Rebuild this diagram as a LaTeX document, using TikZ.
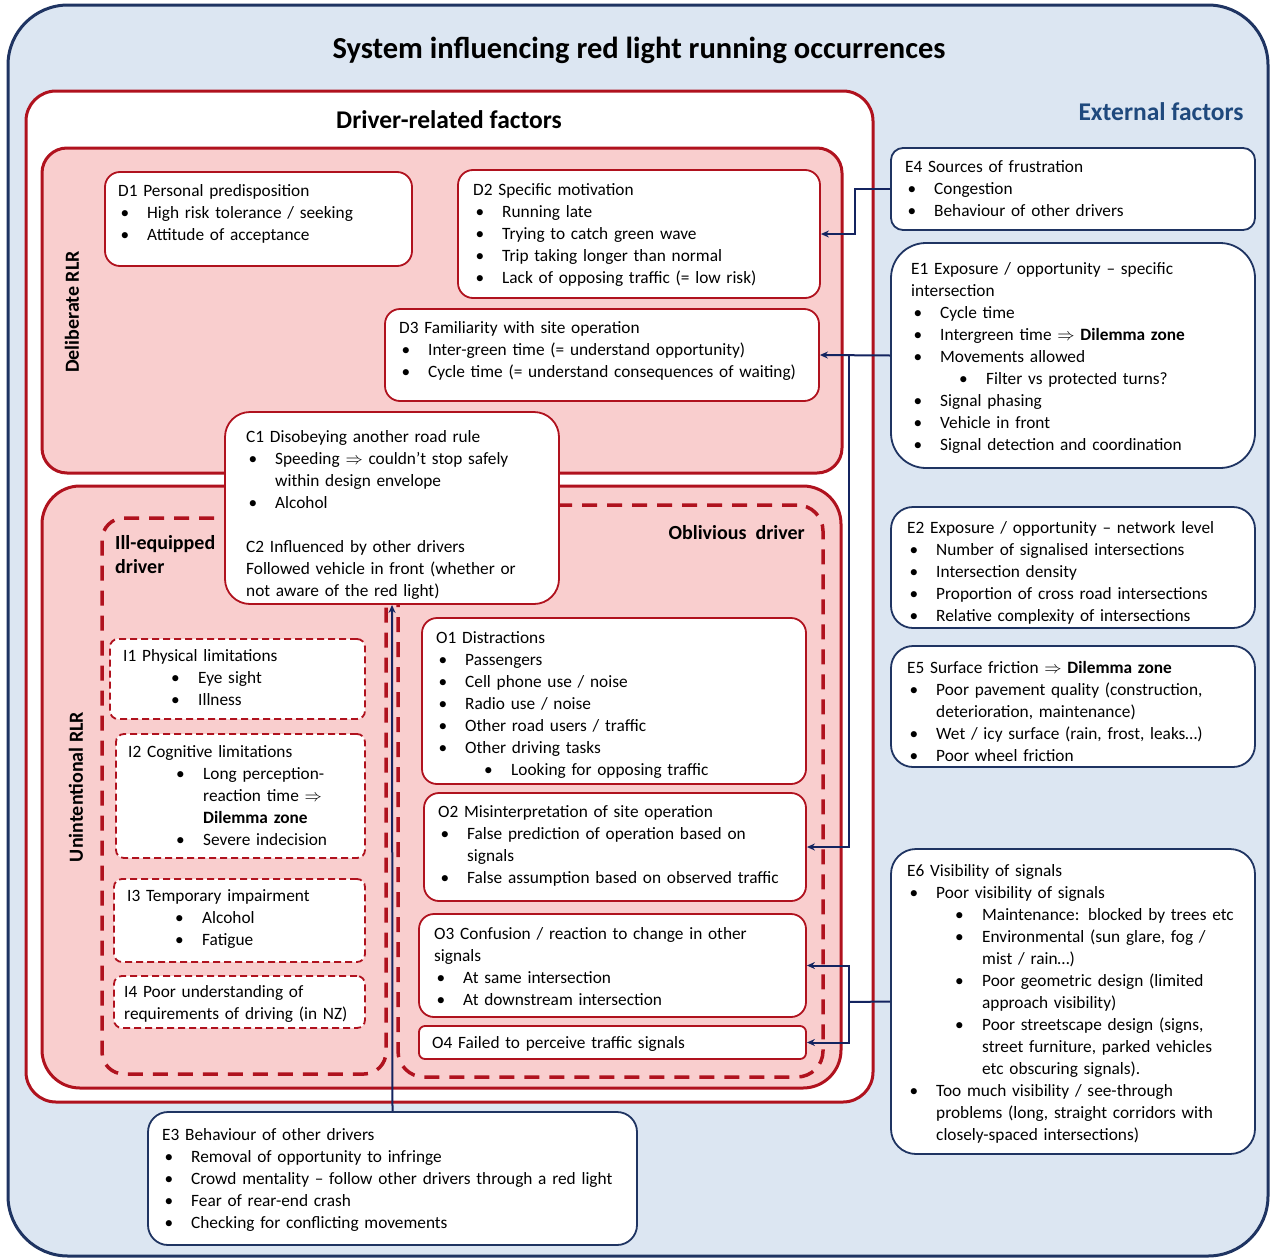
\documentclass[tikz,border=0pt]{standalone}
\usepackage{fontspec}
\setmainfont{Carlito}
\usetikzlibrary{arrows.meta,fit}

\definecolor{outerfill}{RGB}{220,230,242}
\definecolor{navy}{RGB}{31,52,98}
\definecolor{dred}{RGB}{176,18,30}
\definecolor{pinkfill}{RGB}{249,206,206}
\definecolor{conn}{RGB}{20,36,96}
\definecolor{extblue}{RGB}{31,73,125}

\newcommand\Bi[1]{\makebox[29pt][l]{\hspace{2.5pt}\textbullet}#1}
\newcommand\Bii[1]{\makebox[75pt][l]{\hspace{48pt}\textbullet}#1}
\newcommand\Ci[1]{\makebox[29pt][l]{}#1}
\newcommand\Cii[1]{\makebox[75pt][l]{}#1}
\newcommand\Fl{\rule{0pt}{13.5pt}}
\newcommand\Imp{$\Rightarrow$}

\tikzset{
  boxbase/.style={inner sep=0pt},
  outerbox/.style={boxbase, draw=navy, line width=3pt, fill=outerfill, rounded corners=60pt},
  redbox/.style={boxbase, draw=dred, line width=3pt, rounded corners=#1},
  dbox/.style={boxbase, draw=dred, line width=1.8pt, fill=white, rounded corners=#1},
  ibox/.style={boxbase, draw=dred, line width=1.8pt, dash pattern=on 7pt off 4pt, fill=white, rounded corners=8pt},
  groupbox/.style={boxbase, draw=dred, line width=3.5pt, dash pattern=on 15pt off 10pt, rounded corners=#1},
  ebox/.style={boxbase, draw=navy, line width=1.8pt, fill=white, rounded corners=#1},
  txt/.style={anchor=north west, inner sep=0pt, align=left, text width=560pt, font=\fontsize{17.3}{22}\selectfont},
  hdr/.style={inner sep=0pt, font=\fontsize{20}{24}\selectfont\bfseries},
  connline/.style={draw=conn, line width=2pt},
  conn/.style={connline, -{Stealth[length=8pt,width=7pt]}},
}

\begin{document}
\begin{tikzpicture}[x=1pt,y=-1pt]
\path[use as bounding box] (0,0) rectangle (1271,1258);

% outer system
\node[outerbox, fit={(8,5) (1268,1256)}] (outer) {};
\node[inner sep=0pt, font=\fontsize{30.5}{34}\selectfont\bfseries] (title) at (639,50) {System influencing red light running occurrences};
\node[inner sep=0pt, font=\fontsize{25.5}{30}\selectfont\bfseries, text=extblue] (extlbl) at (1161,112) {External factors};

% driver-related
\node[redbox=30pt, fill=white, fit={(26,91) (873,1102)}] (driver) {};
\node[inner sep=0pt, font=\fontsize{25.5}{30}\selectfont\bfseries] (drvlbl) at (449,120) {Driver-related factors};

\node[redbox=25pt, fill=pinkfill, fit={(42,148) (842,473)}] (delib) {};
\node[hdr, rotate=90] (delibl) at (72,312) {Deliberate RLR};

\node[redbox=38pt, fill=pinkfill, fit={(42,486) (841,1088)}] (unint) {};
\node[hdr, rotate=90] (unintl) at (76,787) {Unintentional RLR};

\node[groupbox=22pt, fit={(102,518) (386,1074)}] (illeq) {};
\node[groupbox=26pt, fit={(398,505) (823,1077)}] (obliv) {};
\node[hdr, anchor=north west, align=left] (illeql) at (115,535) {Ill-equipped\\driver};
\node[hdr, anchor=east] (oblivl) at (805,533) {Oblivious\ \ driver};

% deliberate boxes
\node[dbox=15pt, fit={(105,172) (412,266)}] (d1) {};
\node[txt] (d1t) at (118,183) {\Fl D1 Personal predisposition\\
\Bi{High risk tolerance / seeking}\\
\Bi{Attitude of acceptance}};

\node[dbox=15pt, fit={(458,170) (820,298)}] (d2) {};
\node[txt] (d2t) at (473,182) {\Fl D2 Specific motivation\\
\Bi{Running late}\\
\Bi{Trying to catch green wave}\\
\Bi{Trip taking longer than normal}\\
\Bi{Lack of opposing traffic (= low risk)}};

\node[dbox=15pt, fit={(385,309) (819,401)}] (d3) {};
\node[txt] (d3t) at (399,320) {\Fl D3 Familiarity with site operation\\
\Bi{Inter-green time (= understand opportunity)}\\
\Bi{Cycle time (= understand consequences of waiting)}};

% ill-equipped boxes
\node[ibox, fit={(110,639) (365,719)}] (i1) {};
\node[txt] (i1t) at (123,648) {\Fl I1 Physical limitations\\
\Bii{Eye sight}\\
\Bii{Illness}};

\node[ibox, fit={(116,734) (365,858)}] (i2) {};
\node[txt] (i2t) at (128,744) {\Fl I2 Cognitive limitations\\
\Bii{Long perception-}\\
\Cii{reaction time \Imp}\\
\Cii{\textbf{Dilemma zone}}\\
\Bii{Severe indecision}};

\node[ibox, fit={(114,879) (365,962)}] (i3) {};
\node[txt] (i3t) at (127,888) {\Fl I3 Temporary impairment\\
\Bii{Alcohol}\\
\Bii{Fatigue}};

\node[ibox, fit={(114,976) (365,1028)}] (i4) {};
\node[txt] (i4t) at (124,984) {\Fl I4 Poor understanding of\\
requirements of driving (in NZ)};

% oblivious boxes
\node[dbox=15pt, fit={(422,618) (806,784)}] (o1) {};
\node[txt] (o1t) at (436,630) {\Fl O1 Distractions\\
\Bi{Passengers}\\
\Bi{Cell phone use / noise}\\
\Bi{Radio use / noise}\\
\Bi{Other road users / traffic}\\
\Bi{Other driving tasks}\\
\Bii{Looking for opposing traffic}};

\node[dbox=15pt, fit={(424,793) (806,901)}] (o2) {};
\node[txt] (o2t) at (438,804) {\Fl O2 Misinterpretation of site operation\\
\Bi{False prediction of operation based on}\\
\Ci{signals}\\
\Bi{False assumption based on observed traffic}};

\node[dbox=15pt, fit={(419,914) (806,1017)}] (o3) {};
\node[txt] (o3t) at (434,926) {\Fl O3 Confusion / reaction to change in other\\
signals\\
\Bi{At same intersection}\\
\Bi{At downstream intersection}};

\node[dbox=6pt, fit={(419,1026) (806,1059)}] (o4) {};
\node[txt] (o4t) at (432,1035) {\Fl O4 Failed to perceive traffic signals};

% C1/C2 box
\node[dbox=25pt, fit={(225,412) (559,604)}] (c1) {};
\node[txt] (c1t) at (246,429) {\Fl C1 Disobeying another road rule\\
\Bi{Speeding \Imp{} couldn’t stop safely}\\
\Ci{within design envelope}\\
\Bi{Alcohol}\\[22pt]
C2 Influenced by other drivers\\
Followed vehicle in front (whether or\\
not aware of the red light)};

% external boxes
\node[ebox=12pt, fit={(891,148) (1255,230)}] (e4) {};
\node[txt] (e4t) at (905,159) {\Fl E4 Sources of frustration\\
\Bi{Congestion}\\
\Bi{Behaviour of other drivers}};

\node[ebox=35pt, fit={(891,243) (1255,468)}] (e1) {};
\node[txt] (e1t) at (911,261) {\Fl E1 Exposure / opportunity – specific\\
intersection\\
\Bi{Cycle time}\\
\Bi{Intergreen time \Imp{} \textbf{Dilemma zone}}\\
\Bi{Movements allowed}\\
\Bii{Filter vs protected turns?}\\
\Bi{Signal phasing}\\
\Bi{Vehicle in front}\\
\Bi{Signal detection and coordination}};

\node[ebox=22pt, fit={(891,507) (1255,628)}] (e2) {};
\node[txt] (e2t) at (907,520) {\Fl E2 Exposure / opportunity – network level\\
\Bi{Number of signalised intersections}\\
\Bi{Intersection density}\\
\Bi{Proportion of cross road intersections}\\
\Bi{Relative complexity of intersections}};

\node[ebox=22pt, fit={(891,646) (1255,767)}] (e5) {};
\node[txt] (e5t) at (907,660) {\Fl E5 Surface friction \Imp{} \textbf{Dilemma zone}\\
\Bi{Poor pavement quality (construction,}\\
\Ci{deterioration, maintenance)}\\
\Bi{Wet / icy surface (rain, frost, leaks…)}\\
\Bi{Poor wheel friction}};

\node[ebox=25pt, fit={(891,849) (1255,1154)}] (e6) {};
\node[txt] (e6t) at (907,863) {\Fl E6 Visibility of signals\\
\Bi{Poor visibility of signals}\\
\Bii{Maintenance: blocked by trees etc}\\
\Bii{Environmental (sun glare, fog /}\\
\Cii{mist / rain…)}\\
\Bii{Poor geometric design (limited}\\
\Cii{approach visibility)}\\
\Bii{Poor streetscape design (signs,}\\
\Cii{street furniture, parked vehicles}\\
\Cii{etc obscuring signals).}\\
\Bi{Too much visibility / see-through}\\
\Ci{problems (long, straight corridors with}\\
\Ci{closely-spaced intersections)}};

\node[ebox=20pt, fit={(148,1112) (637,1245)}] (e3) {};
\node[txt] (e3t) at (162,1127) {\Fl E3 Behaviour of other drivers\\
\Bi{Removal of opportunity to infringe}\\
\Bi{Crowd mentality – follow other drivers through a red light}\\
\Bi{Fear of rear-end crash}\\
\Bi{Checking for conflicting movements}};

% connectors
\coordinate (j4) at (855,189);
\coordinate (j1) at (849,356);
\coordinate (j6) at (849,1002);
\draw[conn] (e4.west) -- (j4) |- (d2.east);
\draw[conn] (e1.west) -- (d3.east);
\draw[conn] (j1) |- (o2.east);
\draw[connline] (e6.west) -- (j6);
\draw[conn] (j6) |- (o3.east);
\draw[conn] (j6) |- (o4.east);
\draw[conn] (e3.north) -- (c1.south);
\end{tikzpicture}
\end{document}
